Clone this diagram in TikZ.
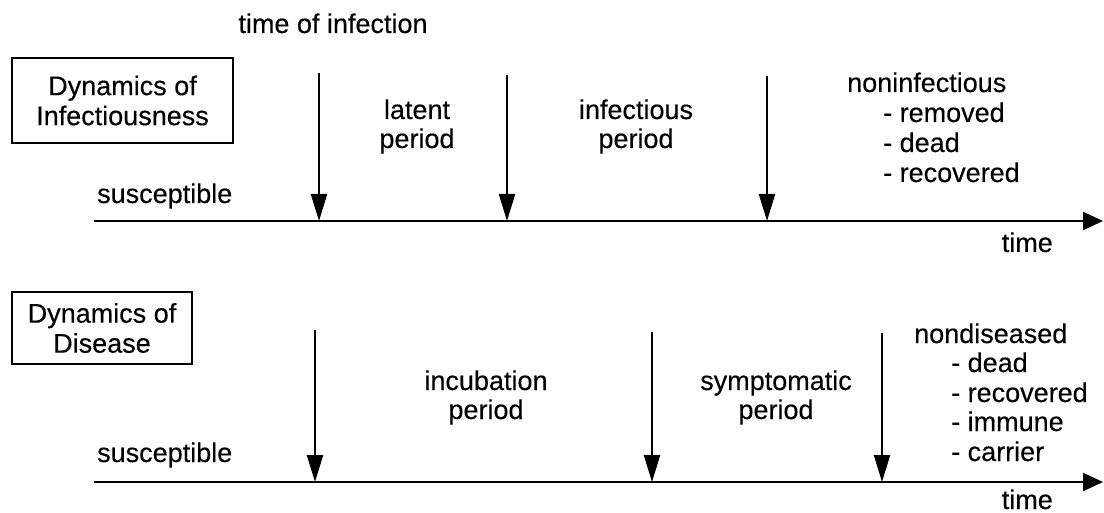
\documentclass[tikz,border=0pt]{standalone}
\usepackage{fontspec}
\setmainfont{Liberation Sans}
\newfontfamily\scanfont{Liberation Sans}[FakeBold=0.3]
\usetikzlibrary{arrows.meta}
\begin{document}
\begin{tikzpicture}[x=1pt,y=-1pt,
  lbl/.style={font=\scanfont\fontsize{27}{30}\selectfont, inner sep=0pt},
  boxnode/.style={draw, line width=1.5pt, align=center, font=\scanfont\fontsize{27}{30}\selectfont, inner sep=0pt},
  axisline/.style={line width=2.3pt, -{Triangle[length=20pt,width=18pt]}},
  evt/.style={line width=2.2pt, -{Triangle[length=27pt,width=16pt]}}]
\useasboundingbox (0,0) rectangle (1104,513);

% ---------- top panel: dynamics of infectiousness ----------
\node[lbl, anchor=base] (toi) at (333,33) {time of infection};
\node[boxnode, minimum width=221pt, minimum height=85pt] (box1) at (122.5,100.5) {Dynamics of\\Infectiousness};

\coordinate (ax1s) at (94,221);
\coordinate (ax1e) at (1103,221);
\draw[axisline] (ax1s) -- (ax1e);

\coordinate (t1a) at (319,73);  \coordinate (t1b) at (319,221);
\coordinate (t2a) at (507,75);  \coordinate (t2b) at (507,221);
\coordinate (t3a) at (767,76);  \coordinate (t3b) at (767,221);
\draw[evt] (t1a) -- (t1b);
\draw[evt] (t2a) -- (t2b);
\draw[evt] (t3a) -- (t3b);

\node[lbl, anchor=base west] (sus1) at (97,203) {susceptible};
\node[lbl, anchor=base] (lat1) at (417,119) {latent};
\node[lbl, anchor=base] (lat2) at (417,148) {period};
\node[lbl, anchor=base] (inf1) at (636,119) {infectious};
\node[lbl, anchor=base] (inf2) at (636,148) {period};
\node[lbl, anchor=base west] (non0) at (847,92) {noninfectious};
\node[lbl, anchor=base west] (non1) at (883,122) {- removed};
\node[lbl, anchor=base west] (non2) at (883,152) {- dead};
\node[lbl, anchor=base west] (non3) at (883,182) {- recovered};
\node[lbl, anchor=base east] (time1) at (1053,252) {time};

% ---------- bottom panel: dynamics of disease ----------
\node[boxnode, minimum width=180pt, minimum height=72pt] (box2) at (102,328) {Dynamics of\\Disease};

\coordinate (ax2s) at (94,482);
\coordinate (ax2e) at (1103,482);
\draw[axisline] (ax2s) -- (ax2e);

\coordinate (b1a) at (315,330);  \coordinate (b1b) at (315,482);
\coordinate (b2a) at (652,332);  \coordinate (b2b) at (652,482);
\coordinate (b3a) at (882,333);  \coordinate (b3b) at (882,482);
\draw[evt] (b1a) -- (b1b);
\draw[evt] (b2a) -- (b2b);
\draw[evt] (b3a) -- (b3b);

\node[lbl, anchor=base west] (sus2) at (97,462) {susceptible};
\node[lbl, anchor=base] (inc1) at (486,390) {incubation};
\node[lbl, anchor=base] (inc2) at (486,419) {period};
\node[lbl, anchor=base] (sym1) at (776,390) {symptomatic};
\node[lbl, anchor=base] (sym2) at (776,419) {period};
\node[lbl, anchor=base west] (nd0) at (914,343) {nondiseased};
\node[lbl, anchor=base west] (nd1) at (951,372) {- dead};
\node[lbl, anchor=base west] (nd2) at (951,402) {- recovered};
\node[lbl, anchor=base west] (nd3) at (951,431) {- immune};
\node[lbl, anchor=base west] (nd4) at (951,461) {- carrier};
\node[lbl, anchor=base east] (time2) at (1053,509) {time};
\end{tikzpicture}
\end{document}
